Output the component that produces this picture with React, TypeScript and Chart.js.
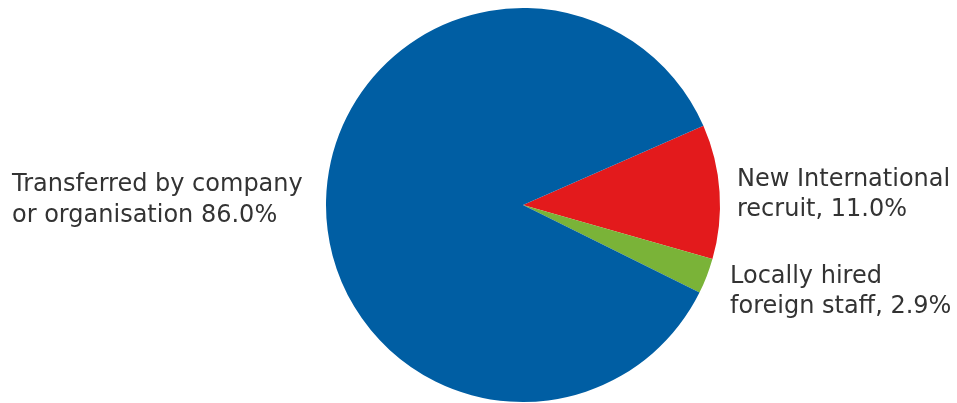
import React, { useEffect, useRef } from "react";
import { Chart, registerables } from "chart.js";

Chart.register(...registerables);

const categories = [
  "New International recruit",
  "Locally hired foreign staff",
  "Transferred by company or organisation",
];
const values = [11.0, 2.9, 86.0];
const colors = ["#E31A1C", "#7AB338", "#005EA3"];
const labelLines = [
  ["New International", "recruit, 11.0%"],
  ["Locally hired", "foreign staff, 2.9%"],
  ["Transferred by company", "or organisation 86.0%"],
];

// layout of the outside labels, relative to the pie centre / radius
const labelLayout = [
  { side: 1, gap: 17, dy: -19, lh: 30 },
  { side: 1, gap: 10, dy: 78, lh: 30 },
  { side: -1, gap: 314, dy: -14, lh: 31 },
];

const outsideLabels = {
  id: "outsideLabels",
  afterDraw(chart: any) {
    const meta = chart.getDatasetMeta(0);
    const ctx = chart.ctx;
    ctx.save();
    ctx.font = "24px 'DejaVu Sans', Verdana, sans-serif";
    ctx.fillStyle = "#333333";
    ctx.textBaseline = "alphabetic";
    ctx.textAlign = "left";
    meta.data.forEach((arc: any, i: number) => {
      const { x, y, outerRadius } = arc.getProps(["x", "y", "outerRadius"], true);
      const l = labelLayout[i];
      const lx = l.side > 0 ? x + outerRadius + l.gap : x - outerRadius - l.gap;
      labelLines[i].forEach((line, j) => {
        ctx.fillText(line, lx, y + l.dy + j * l.lh);
      });
    });
    ctx.restore();
  },
};

export default function App() {
  const ref = useRef<HTMLCanvasElement>(null);
  useEffect(() => {
    if (!ref.current) return;
    const chart = new Chart(ref.current, {
      type: "pie",
      data: {
        labels: categories,
        datasets: [
          {
            data: values,
            backgroundColor: colors,
            borderWidth: 0,
            hoverOffset: 0,
            offset: 0,
          },
        ],
      },
      options: {
        responsive: false,
        animation: false,
        devicePixelRatio: 1,
        rotation: 66.3,
        layout: { padding: { left: 89, right: 0, top: 8, bottom: 1 } },
        plugins: {
          legend: { display: false },
          tooltip: { enabled: false },
        },
        events: [],
      },
      plugins: [outsideLabels],
    });
    return () => chart.destroy();
  }, []);
  return (
    <div style={{ position: "absolute", left: 0, top: 0, width: 957, height: 403, background: "#fff" }}>
      <canvas ref={ref} width={957} height={403} style={{ display: "block" }} />
    </div>
  );
}
